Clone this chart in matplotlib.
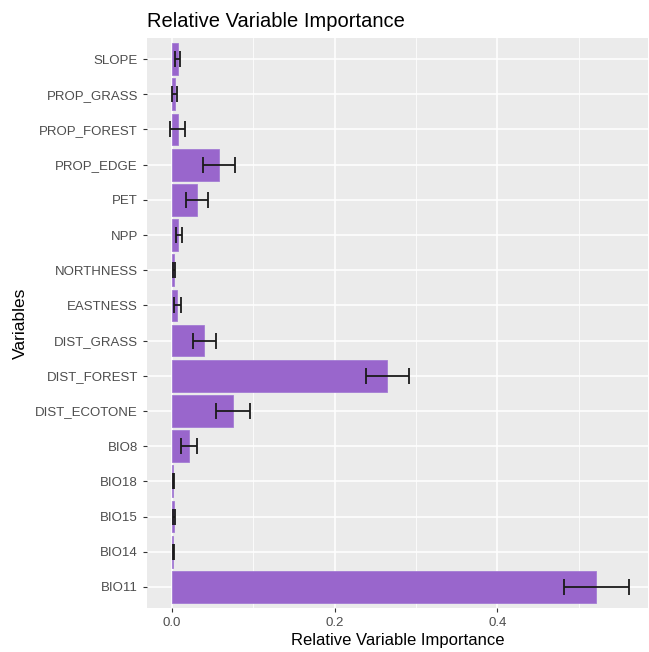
import matplotlib
import matplotlib.pyplot as plt
import numpy as np

matplotlib.use("Agg")
plt.rcParams["font.family"] = ["Liberation Sans", "DejaVu Sans"]

# data, top row first as drawn
variables = ["SLOPE", "PROP_GRASS", "PROP_FOREST", "PROP_EDGE", "PET", "NPP",
             "NORTHNESS", "EASTNESS", "DIST_GRASS", "DIST_FOREST", "DIST_ECOTONE",
             "BIO8", "BIO18", "BIO15", "BIO14", "BIO11"]
importance = [0.007, 0.0033, 0.007, 0.058, 0.031, 0.008,
              0.003, 0.0065, 0.0397, 0.264, 0.075,
              0.0205, 0.0015, 0.0028, 0.0015, 0.522]
err_low = [0.0037, 0.0004, -0.002, 0.0376, 0.0175, 0.0049,
           0.0018, 0.003, 0.026, 0.238, 0.054,
           0.0107, 0.0008, 0.0018, 0.0008, 0.482]
err_high = [0.010, 0.006, 0.0163, 0.0777, 0.0445, 0.0123,
            0.0042, 0.0114, 0.0536, 0.291, 0.0965,
            0.031, 0.0025, 0.0042, 0.0025, 0.562]

fig = plt.figure(figsize=(6.49, 6.52), dpi=100)
ax = fig.add_axes([0.2265, 0.0675, 0.7715, 0.8742])

n = len(variables)
ypos = np.arange(n)[::-1]
imp = np.array(importance)
lo = np.array(err_low)
hi = np.array(err_high)

ax.set_facecolor("#EBEBEB")
ax.barh(ypos, imp, height=0.9, color="#9966CC", edgecolor="#A47CD4", linewidth=0.6, zorder=2)
ax.errorbar(imp, ypos, xerr=[imp - lo, hi - imp], fmt="none", ecolor="#1a1a1a",
            elinewidth=1.3, capsize=5.5, capthick=1.3, zorder=3)

ax.set_xlim(-0.0307, 0.585)
ax.set_ylim(-0.6, n - 1 + 0.6)
ax.set_yticks(ypos)
ax.set_yticklabels(variables)
ax.set_xticks([0.0, 0.2, 0.4])
ax.set_xticklabels(["0.0", "0.2", "0.4"])
ax.set_xticks([0.1, 0.3, 0.5], minor=True)

ax.grid(which="major", color="white", linewidth=1.1, zorder=0)
ax.grid(which="minor", axis="x", color="white", linewidth=0.55, zorder=0)
ax.set_axisbelow(True)
for s in ax.spines.values():
    s.set_visible(False)
ax.tick_params(which="major", length=3, color="#333333", labelcolor="#4D4D4D",
               labelsize=9.5, width=0.8)
ax.tick_params(which="minor", length=0)

ax.set_xlabel("Relative Variable Importance", fontsize=12, color="black", labelpad=3)
ax.set_ylabel("Variables", fontsize=12.5, color="black")
ax.yaxis.set_label_coords(-0.237, 0.5)
ax.set_title("Relative Variable Importance", fontsize=14.5, loc="left", x=0.0, pad=8)

fig.savefig("out.png", dpi=100)
